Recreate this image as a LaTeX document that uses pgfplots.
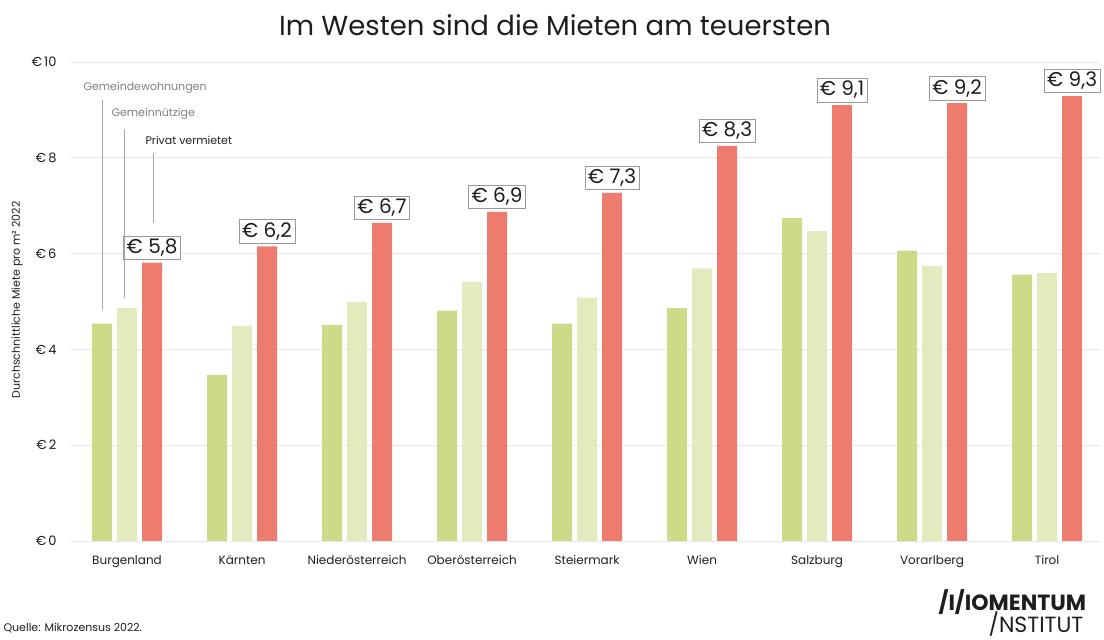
\documentclass[border=0pt]{standalone}
\usepackage{pgfplots}
\pgfplotsset{compat=1.18}
\usepackage{fontspec}
\setmainfont{Poppins}
\definecolor{dg}{RGB}{203,219,135}
\definecolor{lg}{RGB}{226,234,190}
\definecolor{rd}{RGB}{238,124,110}
\definecolor{gridc}{RGB}{232,232,232}
\definecolor{txt}{RGB}{30,30,30}
\begin{document}
\begin{tikzpicture}[x=1pt,y=1pt]
\path[use as bounding box] (0,0) rectangle (1104,640);
\clip (0,0) rectangle (1104,640);
\begin{axis}[
  at={(70pt,99pt)}, anchor=south west, scale only axis,
  width=1030pt, height=479pt,
  xmin=-0.496, xmax=8.46, ymin=0, ymax=10,
  axis line style={draw=none}, tick style={draw=none},
  ymajorgrids, grid style={gridc, line width=0.8pt},
  xtick={0,...,8},
  xticklabels={Burgenland,Kärnten,Niederösterreich,Oberösterreich,Steiermark,Wien,Salzburg,Vorarlberg,Tirol},
  ytick={0,2,4,6,8,10},
  yticklabels={€\kern2pt 0,€\kern2pt 2,€\kern2pt 4,€\kern2pt 6,€\kern2pt 8,€\kern2pt 10},
  ticklabel style={font=\fontsize{12}{14}\selectfont, text=txt},
  yticklabel style={font=\fontsize{13}{15}\selectfont, xshift=-10pt},
  xticklabel style={yshift=-7pt},
  ybar, bar width=20pt, clip=false,
]
\addplot[fill=dg, draw=none, bar shift=-25pt] coordinates {
 (0,4.54) (1,3.47) (2,4.51) (3,4.81) (4,4.54) (5,4.86) (6,6.74) (7,6.06) (8,5.56)};
\addplot[fill=lg, draw=none, bar shift=0pt] coordinates {
 (0,4.86) (1,4.49) (2,4.99) (3,5.41) (4,5.08) (5,5.69) (6,6.47) (7,5.74) (8,5.59)};
\addplot[fill=rd, draw=none, bar shift=25pt,
  nodes near coords, point meta=explicit symbolic,
  nodes near coords style={font=\fontsize{20}{22}\selectfont, text=txt, draw=gray!80, line width=0.6pt, fill=white, inner sep=3pt, anchor=south, yshift=3pt}]
 coordinates {
 (0,5.81) [€ 5,8] (1,6.15) [€ 6,2] (2,6.64) [€ 6,7] (3,6.87) [€ 6,9] (4,7.27) [€ 7,3]
 (5,8.25) [€ 8,3] (6,9.10) [€ 9,1] (7,9.14) [€ 9,2] (8,9.29) [€ 9,3]};
\end{axis}
% title
\node[font=\fontsize{27.5}{31}\selectfont, text=txt] at (555,615) {Im Westen sind die Mieten am teuersten};
% y label
\node[rotate=90, font=\fontsize{11}{13}\selectfont, text=txt] at (17,340) {Durchschnittliche Miete pro m² 2022};
% legend leader annotations
\node[anchor=west, font=\fontsize{11}{13}\selectfont, text=gray] at (80,552) {Gemeindewohnungen};
\draw[gray!70, line width=0.6pt] (102,540) -- (102,330);
\node[anchor=west, font=\fontsize{11}{13}\selectfont, text=gray] at (108,526) {Gemeinnützige};
\draw[gray!70, line width=0.6pt] (124,511) -- (124,342);
\node[anchor=west, font=\fontsize{11}{13}\selectfont, text=txt] at (142,500) {Privat vermietet};
\draw[gray!70, line width=0.6pt] (153,487) -- (153,417);
% source
\node[anchor=west, font=\fontsize{11}{13}\selectfont, text=txt] at (0,12) {Quelle: Mikrozensus 2022.};
% logo
\node[anchor=west, font=\fontsize{22}{24}\selectfont\bfseries, text=txt] at (935,38) {/I/IOMENTUM};
\node[anchor=west, font=\fontsize{22}{24}\selectfont, text=txt] at (985,16) {/NSTITUT};
\end{tikzpicture}
\end{document}
